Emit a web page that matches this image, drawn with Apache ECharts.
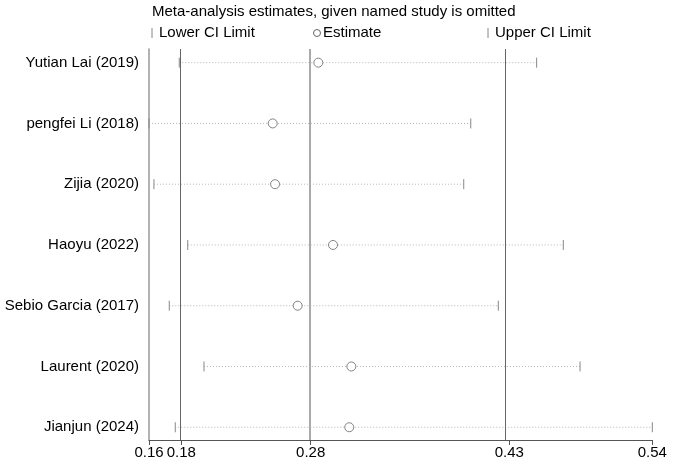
<!DOCTYPE html>
<html>
<head>
<meta charset="utf-8">
<script src="https://cdn.jsdelivr.net/npm/echarts@6/dist/echarts.min.js"></script>
<style>
  html, body { margin: 0; padding: 0; background: #fff; }
  #chart { width: 676px; height: 467px; }
</style>
</head>
<body>
<div id="chart"></div>
<script>
// study omitted in each row, top to bottom
const studies = ['Yutian Lai (2019)', 'pengfei Li (2018)', 'Zijia (2020)', 'Haoyu (2022)',
  'Sebio Garcia (2017)', 'Laurent (2020)', 'Jianjun (2024)'];
const lowerCI   = [0.1793, 0.1560, 0.1598, 0.1858, 0.1716, 0.1983, 0.1762];
const estimates = [0.2863, 0.2512, 0.2530, 0.2976, 0.2704, 0.3117, 0.3101];
const upperCI   = [0.4543, 0.4036, 0.3982, 0.4748, 0.4248, 0.4877, 0.5433];
// pooled lower / estimate / upper
const overall = [0.1809, 0.2804, 0.4333];
const axisTicks = [0.1560, 0.1809, 0.2804, 0.4333, 0.5433];

const FONT = 'Liberation Sans, Arial, sans-serif';
const chart = echarts.init(document.getElementById('chart'));

const ciData = studies.map((s, i) => [lowerCI[i], estimates[i], upperCI[i], i + 1]);
const estData = studies.map((s, i) => [estimates[i], i + 1]);

const option = {
  animation: false,
  backgroundColor: '#fff',
  textStyle: { fontFamily: FONT },
  grid: { left: 149, right: 23.7, top: 49, bottom: 27, containLabel: false },
  xAxis: {
    type: 'value',
    min: axisTicks[0],
    max: axisTicks[axisTicks.length - 1],
    axisLine: { show: true, lineStyle: { color: '#555', width: 1 } },
    axisTick: { show: true, length: 5, customValues: axisTicks, lineStyle: { color: '#555' } },
    axisLabel: {
      customValues: axisTicks,
      formatter: v => v.toFixed(2),
      color: '#000', fontSize: 15, fontFamily: FONT, margin: 5
    },
    splitLine: { show: false }
  },
  yAxis: {
    type: 'value',
    inverse: true,
    min: 0.775,
    max: 7.21,
    axisLine: { show: true, lineStyle: { color: '#999', width: 1.5 } },
    axisTick: { show: false },
    axisLabel: {
      customValues: [1, 2, 3, 4, 5, 6, 7],
      formatter: v => studies[Math.round(v) - 1],
      color: '#000', fontSize: 15, fontFamily: FONT, margin: 10
    },
    splitLine: { show: false }
  },
  graphic: [
    { type: 'text', left: 152, top: 4, style: { text: 'Meta-analysis estimates, given named study is omitted', fill: '#000', font: '15px ' + FONT } },
    { type: 'line', shape: { x1: 152, y1: 28, x2: 152, y2: 38 }, style: { stroke: '#888', lineWidth: 1 } },
    { type: 'text', left: 159, top: 25, style: { text: 'Lower CI Limit', fill: '#000', font: '15px ' + FONT } },
    { type: 'circle', shape: { cx: 317, cy: 33, r: 3.5 }, style: { stroke: '#666', fill: 'none', lineWidth: 1 } },
    { type: 'text', left: 323, top: 25, style: { text: 'Estimate', fill: '#000', font: '15px ' + FONT } },
    { type: 'line', shape: { x1: 488, y1: 28, x2: 488, y2: 38 }, style: { stroke: '#888', lineWidth: 1 } },
    { type: 'text', left: 495, top: 25, style: { text: 'Upper CI Limit', fill: '#000', font: '15px ' + FONT } }
  ],
  series: [
    {
      type: 'custom',
      data: ciData,
      encode: { x: [0, 2], y: 3 },
      silent: true,
      renderItem: (params, api) => {
        const y = api.value(3);
        const p1 = api.coord([api.value(0), y]);
        const p2 = api.coord([api.value(2), y]);
        return {
          type: 'group',
          children: [
            { type: 'line', shape: { x1: p1[0], y1: p1[1], x2: p2[0], y2: p2[1] },
              style: { stroke: '#b5b5b5', lineWidth: 1, lineDash: [1, 2] } },
            { type: 'line', shape: { x1: p1[0], y1: p1[1] - 5, x2: p1[0], y2: p1[1] + 5 },
              style: { stroke: '#888', lineWidth: 1 } },
            { type: 'line', shape: { x1: p2[0], y1: p2[1] - 5, x2: p2[0], y2: p2[1] + 5 },
              style: { stroke: '#888', lineWidth: 1 } }
          ]
        };
      }
    },
    {
      type: 'scatter',
      data: estData,
      symbol: 'circle',
      symbolSize: 9,
      itemStyle: { color: '#fff', borderColor: '#666', borderWidth: 1 },
      silent: true,
      z: 5,
      markLine: {
        silent: true,
        symbol: ['none', 'none'],
        label: { show: false },
        data: [
          { xAxis: overall[0], lineStyle: { color: '#666', width: 1, type: 'solid' } },
          { xAxis: overall[1], lineStyle: { color: '#aaa', width: 2, type: 'solid' } },
          { xAxis: overall[2], lineStyle: { color: '#666', width: 1, type: 'solid' } }
        ]
      }
    }
  ]
};

chart.setOption(option);
</script>
</body>
</html>
